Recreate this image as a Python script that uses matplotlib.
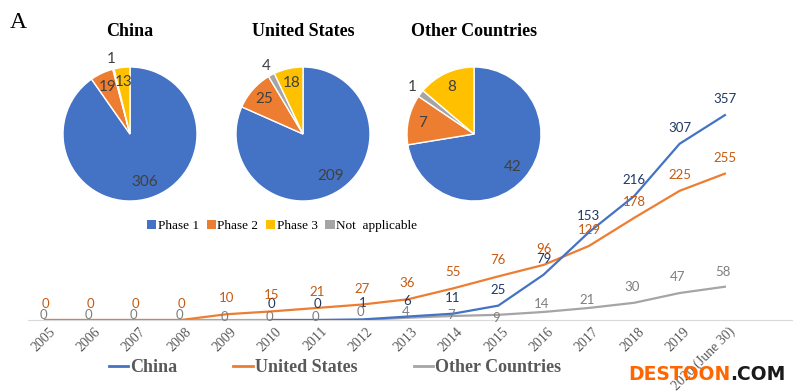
import numpy as np
import matplotlib
matplotlib.use("Agg")
import matplotlib.pyplot as plt
from matplotlib.patches import Patch
from matplotlib.lines import Line2D
import matplotlib.transforms as mtrans

plt.rcParams['font.family'] = ['Liberation Serif', 'DejaVu Serif']

# data
years = ['2005', '2006', '2007', '2008', '2009', '2010', '2011', '2012',
         '2013', '2014', '2015', '2016', '2017', '2018', '2019', '2020 (June 30)']
china = [np.nan, np.nan, np.nan, np.nan, np.nan, 0, 0, 1, 6, 11, 25, 79, 153, 216, 307, 357]
usa = [0, 0, 0, 0, 10, 15, 21, 27, 36, 55, 76, 96, 129, 178, 225, 255]
other = [0, 0, 0, 0, 0, 0, 0, 0, 4, 7, 9, 14, 21, 30, 47, 58]

phases = ['Phase 1', 'Phase 2', 'Phase 3', 'Not  applicable']
pie_names = ['China', 'United States', 'Other Countries']
pie_china = [306, 19, 13, 1]
pie_usa = [209, 25, 18, 4]
pie_other = [42, 7, 8, 1]

# styles
BLUE, ORANGE, YELLOW, GRAY = '#4472C4', '#ED7D31', '#FFC000', '#A5A5A5'
SANS = ['Lato', 'DejaVu Sans']

W, H = 800, 391
fig = plt.figure(figsize=(8, 3.91), dpi=100)

def fx(px):
    return px / W

def fy(py):
    return 1 - py / H

# ---- line chart ----
ax = fig.add_axes([fx(28), fy(320), fx(764), 229.6 / H])
x = np.arange(len(years))
ax.plot(x, other, color=GRAY, lw=1.6, zorder=2)
ax.plot(x, usa, color=ORANGE, lw=1.6, zorder=3)
ax.plot(x, china, color=BLUE, lw=1.6, zorder=4)
ax.set_xlim(-0.375, 16.48)
ax.set_ylim(0, 400)
for s in ['top', 'right', 'left']:
    ax.spines[s].set_visible(False)
ax.spines['bottom'].set_color('#D9D9D9')
ax.set_yticks([])
ax.set_xticks(x)
ax.set_xticklabels(years, rotation=45, ha='right', va='center',
                   rotation_mode='anchor', fontsize=10, color='#595959')
ax.tick_params(axis='x', length=0, pad=4)
shift = mtrans.ScaledTranslation(8 / 100, -4 / 100, fig.dpi_scale_trans)
for lab in ax.get_xticklabels():
    lab.set_transform(lab.get_transform() + shift)
ax.patch.set_alpha(0)

gray_dy = [5, 5, 5, 5, 3, 3, 3, 8, 6, 1, -3, 8, 8, 16, 16, 15]
for i in range(len(years)):
    if not np.isnan(china[i]):
        ax.annotate(str(china[i]), (x[i], china[i]), xytext=(0, 16),
                    textcoords='offset pixels', ha='center', va='center',
                    fontsize=9.5, color='#1F3864', family=SANS, zorder=6)
    ax.annotate(str(usa[i]), (x[i], usa[i]), xytext=(0, 16),
                textcoords='offset pixels', ha='center', va='center',
                fontsize=9.5, color='#C55A11', family=SANS, zorder=6)
    ax.annotate(str(other[i]), (x[i], other[i]), xytext=(-2, gray_dy[i]),
                textcoords='offset pixels', ha='center', va='center',
                fontsize=9.5, color='#7F7F7F', family=SANS, zorder=6)

handles = [Line2D([], [], color=BLUE, lw=2),
           Line2D([], [], color=ORANGE, lw=2),
           Line2D([], [], color=GRAY, lw=2)]
fig.legend(handles, pie_names, loc='center', bbox_to_anchor=(fx(335), fy(368)),
           ncol=3, frameon=False, handlelength=1.1, handletextpad=0.1,
           columnspacing=3.1, prop={'weight': 'bold', 'size': 13},
           labelcolor='#595959')

# ---- pies ----
pie_data = [pie_china, pie_usa, pie_other]
centers = [130, 303, 474]
R = 67
for name, vals, cx in zip(pie_names, pie_data, centers):
    half = 1.3 * R
    pax = fig.add_axes([fx(cx - half), fy(134 + half), fx(2 * half), 2 * half / H])
    # clockwise from top: Phase 1, Phase 2, Not applicable, Phase 3
    order = [0, 1, 3, 2]
    v = [vals[k] for k in order]
    cols = [[BLUE, ORANGE, YELLOW, GRAY][k] for k in order]
    wedges, _ = pax.pie(v, colors=cols, startangle=90, counterclock=False,
                        wedgeprops=dict(edgecolor='white', linewidth=1))
    pax.set_xlim(-1.3, 1.3)
    pax.set_ylim(-1.3, 1.3)
    total = sum(v)
    for w, val in zip(wedges, v):
        ang = np.deg2rad((w.theta1 + w.theta2) / 2)
        frac = val / total
        r = 1.15 if frac < 0.03 else (0.78 if frac < 0.5 else 0.75)
        pax.text(r * np.cos(ang), r * np.sin(ang), str(val), ha='center',
                 va='center', fontsize=11, color='#404040', family=SANS)
    fig.text(fx(cx), fy(32), name, ha='center', va='center',
             fontsize=13, weight='bold')

pie_handles = [Patch(facecolor=c, edgecolor='none') for c in [BLUE, ORANGE, YELLOW, GRAY]]
fig.legend(pie_handles, phases, loc='center', bbox_to_anchor=(fx(282), fy(226)),
           ncol=4, frameon=False, handlelength=0.7, handleheight=0.7,
           handletextpad=0.1, columnspacing=0.6, prop={'size': 9.5})

fig.text(fx(10), fy(23), 'A', fontsize=17, ha='left', va='center')

# watermark
fig.text(fx(628), fy(380), 'DESTOON', fontsize=13.5, weight='bold',
         color='#FF6600', family='DejaVu Sans', ha='left', va='baseline')
fig.text(fx(786), fy(380), '.COM', fontsize=13.5, weight='bold',
         color='#1A1A1A', family='DejaVu Sans', ha='right', va='baseline')

fig.savefig('out.png', dpi=100)
